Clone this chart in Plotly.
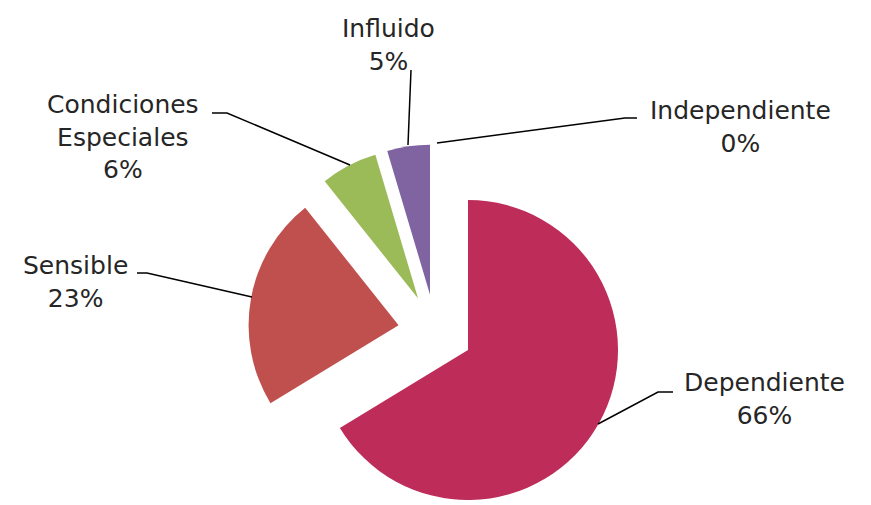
import math
import plotly.graph_objects as go

labels = ["Dependiente", "Sensible", "Condiciones<br>Especiales", "Influido", "Independiente"]
values = [66.3, 23.0, 6.1, 4.6, 0.0]
colors = ["#BE2C59", "#C0504D", "#9BBB59", "#8064A2", "#4BACC6"]

# the page body has an 8px margin, so the figure starts at (8, 8) in the window
OFF = 8
W, H = 871 - OFF, 505 - OFF
center = (435.4, 331.7)   # pie centre in window pixels
radius = 150
pull_px = 37.4


def to_paper(x, y):
    return (x - OFF) / W, 1 - (y - OFF) / H


fig = go.Figure()
total = sum(values)
start = 0.0
for lab, v, col in zip(labels, values, colors):
    if v <= 0:
        start += v
        continue
    mid = (start + v / 2) / total * 2 * math.pi
    cx = center[0] + pull_px * math.sin(mid)
    cy = center[1] - pull_px * math.cos(mid)
    x0, y1 = to_paper(cx - radius, cy - radius)
    x1, y0 = to_paper(cx + radius, cy + radius)
    fig.add_trace(go.Pie(
        values=[v, total - v],
        labels=[lab, "rest"],
        marker=dict(colors=[col, "rgba(0,0,0,0)"], line=dict(width=0)),
        sort=False, direction="clockwise",
        rotation=start / total * 360,
        textinfo="none", hoverinfo="skip", showlegend=False,
        domain=dict(x=[x0, x1], y=[y0, y1]),
    ))
    start += v

# label positions (window pixel centres) and leader lines
label_pos = [(764, 399), (75, 282), (123, 137), (388, 45), (740, 127)]
leaders = [
    [(598, 424), (658, 392), (673, 392)],
    [(252, 297), (147, 273), (137, 273)],
    [(350, 165), (227, 113), (212, 113)],
    [(408, 145), (411, 70)],
    [(437, 143), (625, 118), (637, 118)],
]

for lab, v, (lx, ly) in zip(labels, values, label_pos):
    px, py = to_paper(lx, ly)
    fig.add_annotation(
        x=px, y=py, xref="paper", yref="paper",
        text=f"{lab}<br>{round(v)}%", showarrow=False,
        xanchor="center", yanchor="middle", align="center",
        font=dict(family="DejaVu Sans", size=25, color="#262626"),
    )

for pts in leaders:
    p = [to_paper(x, y) for x, y in pts]
    path = "M " + " L ".join(f"{x:.5f},{y:.5f}" for x, y in p)
    fig.add_shape(type="path", path=path, xref="paper", yref="paper",
                  line=dict(color="#000000", width=1.5))

fig.update_layout(
    width=W, height=H,
    margin=dict(l=0, r=0, t=0, b=0),
    paper_bgcolor="white", plot_bgcolor="white",
)

fig.write_html("out.html")
